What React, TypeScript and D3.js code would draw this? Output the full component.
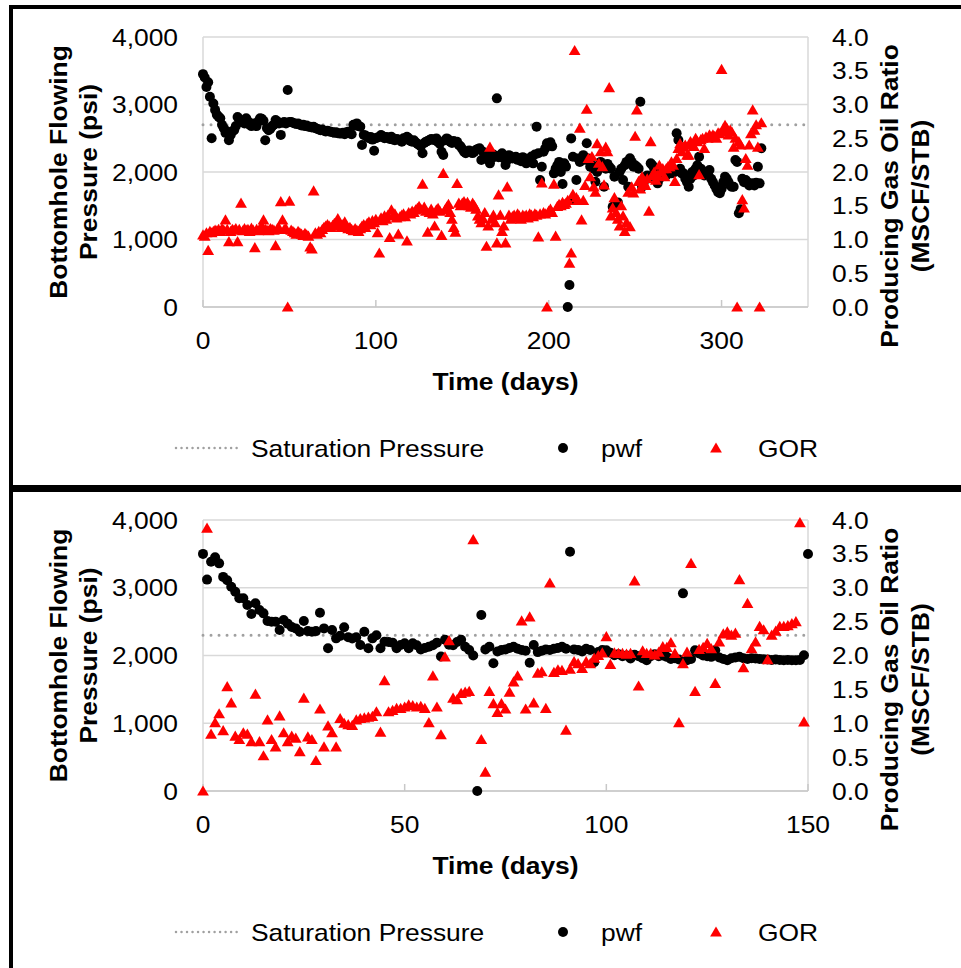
import React from 'react';
import * as d3 from 'd3';

// ---------- data (index = day) ----------
const TOP_TIME_TICKS = [0, 100, 200, 300];
const BOTTOM_TIME_TICKS = [0, 50, 100, 150];
const PRESSURE_TICKS = [0, 1000, 2000, 3000, 4000];
const GOR_TICKS = [0, 0.5, 1, 1.5, 2, 2.5, 3, 3.5, 4];
const TOP_SATURATION = 2700;
const BOTTOM_SATURATION = 2300;
const TOP_X_MAX = 350;
const BOTTOM_X_MAX = 150;
const LEGEND_LABELS = ['Saturation Pressure', 'pwf', 'GOR'];
const X_TITLE = 'Time (days)';
const Y_LEFT_TITLE = ['Bottomhole Flowing', 'Pressure (psi)'];
const Y_RIGHT_TITLE = ['Producing Gas Oil Ratio', '(MSCF/STB)'];

const topPwf: (number | null)[] = [
  3450, 3400, 3260, 3330, 3115, 2500, 3015, 2920, 2850, 2820,
  2795, 2700, 2650, 2580, 2600, 2470, 2550, 2600, 2620, 2680,
  2815, 2780, 2740, 2760, 2720, 2795, 2750, 2700, 2680, 2720,
  2700, 2680, 2750, 2795, 2790, 2760, 2470, 2650, 2620, 2640,
  2680, 2700, 2770, 2750, 2720, 2550, 2730, 2740, 2720, 3215,
  2740, 2740, 2730, 2720, 2710, 2720, 2700, 2690, 2700, 2680,
  2690, 2670, 2672, 2660, 2670, 2650, 2640, 2630, 2620, 2630,
  2610, 2600, 2610, 2600, 2597, 2590, 2580, 2590, 2575, 2570,
  2572, 2580, 2560, 2590, 2597, 2570, 2560, 2700, 2690, 2720,
  2680, 2672, 2400, 2550, 2540, 2523, 2500, 2520, 2480, 2316,
  2500, 2510, 2520, 2548, 2530, 2500, 2520, 2510, 2490, 2523,
  2480, 2470, 2490, 2480, 2473, 2450, 2500, 2480, 2523, 2500,
  2460, 2450, 2470, 2440, 2420, 2400, 2380, 2277, 2430, 2450,
  2460, 2473, 2490, 2480, 2470, 2498, 2440, 2420, 2300, 2252,
  2470, 2498, 2480, 2450, 2430, 2460, 2440, 2449, 2400, 2380,
  2340, 2300, 2277, 2300, 2320, 2290, 2280, 2300, 2330, 2340,
  2351, 2178, 2300, 2280, 2200, 2250, 2128, 2200, 2260, 2230,
  3091, 2220, 2250, 2277, 2200, 2104, 2180, 2250, 2230, 2200,
  2210, 2227, 2180, 2200, 2160, 2220, 2200, 2128, 2180, 2200,
  2230, 2128, 2260, 2672, 2277, 1881, 2079, 2300, 2350, 2425,
  2400, 2440, 2380, 1980, 2050, 2100, 2150, 2000, 1822, 2128,
  2080, 0, 326, 2498, 2227, 1585, 1881, 2200, 2150, 2203,
  2250, 2180, 2425, 2200, 2079, 2100, 2050, 1856, 2000, 2100,
  2150, 2080, 1782, 2050, 2120, 2079, 2050, 1486, 1931, 1500,
  1550, 2000, 2050, 1881, 2100, 2150, 1782, 2203, 2150, 2079,
  2100, 2079, 2050, 3042, 1782, 1850, 1900, 1950, 1920, 2128,
  2100, 2050, 1950, 1832, 1900, 1950, 1980, 2000, 1950, 1980,
  2000, 1980, 2020, 2000, 2573, 2474, 2050, 1980, 1980, 1900,
  1850, 1782, 1900, 2000, 1950, 2050, 2100, 2227, 2050, 1980,
  1950, 2000, 1980, 2030, 1900, 1850, 1800, 1750, 1700, 1684,
  1750, 1850, 1931, 1900, 1850, 1800, 1780, 1782, 2178, 2150,
  1388, 1450, 1900, 1850, 1881, 1850, 1800, 1820, 1832, 1800,
  1840, 2079, 1832, 2351,
];

const topGor: (number | null)[] = [
  1.07, 1.05, 1.10, 0.84, 1.12, 1.10, 1.12, 1.14, 1.13, 1.15,
  1.12, 1.16, 1.14, 1.29, 1.15, 0.97, 1.12, 1.15, 1.14, 1.16,
  0.97, 1.15, 1.54, 1.13, 1.16, 1.14, 1.15, 1.12, 1.17, 1.14,
  0.88, 1.15, 1.13, 1.16, 1.20, 1.29, 1.15, 1.14, 1.13, 1.16,
  1.15, 1.14, 0.91, 1.16, 1.17, 1.56, 1.29, 1.15, 1.16, 0.0,
  1.57, 1.14, 1.12, 1.10, 1.08, 1.12, 1.10, 1.08, 1.06, 1.09,
  1.07, 1.05, 0.89, 0.86, 1.72, 1.10, 1.08, 1.12, 1.10, 1.15,
  1.18, 1.20, 1.22, 1.20, 1.18, 1.21, 1.24, 1.22, 1.31, 1.20,
  1.18, 1.22, 1.26, 1.20, 1.16, 1.18, 1.15, 1.13, 1.16, 1.14,
  1.12, 1.16, 1.20, 1.22, 1.18, 1.24, 1.26, 1.22, 1.28, 1.25,
  1.30, 1.10, 0.80, 1.32, 1.28, 1.35, 1.30, 1.36, 1.03, 1.44,
  1.35, 1.38, 1.32, 1.08, 1.34, 1.36, 1.38, 1.34, 0.98, 1.40,
  1.38, 1.42, 1.40, 1.44, 1.46, 1.49, 1.45, 1.82, 1.48, 1.42,
  1.11, 1.40, 1.45, 1.38, 1.20, 1.44, 1.46, 1.42, 1.06, 1.98,
  1.44, 1.48, 1.52, 1.40, 1.30, 1.18, 1.11, 1.83, 1.54, 1.50,
  1.54, 1.56, 1.52, 1.55, 1.50, 1.48, 1.54, 1.50, 1.45, 1.35,
  1.30, 1.25, 1.31, 1.40, 0.90, 1.20, 2.37, 1.30, 1.36, 1.25,
  0.95, 1.66, 1.36, 1.12, 1.20, 0.95, 1.78, 1.36, 1.30, 1.34,
  1.36, 1.32, 1.38, 1.35, 1.30, 1.36, 1.34, 1.36, 1.32, 1.38,
  1.36, 1.34, 1.38, 1.36, 1.04, 1.38, 1.84, 1.40, 1.38, 0.0,
  1.42, 1.45, 1.40, 1.82, 1.05, 1.49, 1.52, 1.50, 1.55, 1.52,
  1.54, 1.58, 0.65, 0.80, 1.67, 3.80, 1.62, 1.58, 2.65, 1.29,
  1.58, 1.80, 2.93, 2.20, 1.93, 2.23, 1.78, 1.70, 2.42, 2.13,
  2.30, 2.08, 1.81, 2.37, 2.30, 3.25, 1.35, 1.47, 1.62, 1.40,
  1.30, 1.20, 1.50, 1.35, 1.12, 1.25, 1.70, 1.19, 1.78, 1.69,
  2.53, 2.92, 1.86, 1.75, 1.93, 1.85, 1.80, 1.90, 1.42, 2.45,
  1.95, 2.00, 1.88, 1.95, 2.10, 2.00, 2.05, 1.93, 2.05, 2.08,
  2.08, 2.15, 2.10, 1.86, 2.20, 2.35, 2.42, 2.30, 2.37, 2.40,
  2.25, 2.25, 2.45, 2.40, 2.38, 2.50, 2.45, 1.96, 2.48, 2.50,
  2.35, 2.52, 2.50, 2.55, 2.52, 2.55, 2.53, 2.50, 2.58, 2.57,
  3.52, 2.60, 2.69, 2.65, 2.55, 2.62, 2.59, 2.37, 2.50, 0.0,
  2.45, 2.40, 1.59, 1.47, 2.20, 2.10, 2.40, 2.57, 2.92, 2.62,
  2.70, 2.37, 0.0, 2.73,
];

const bottomPwf: (number | null)[] = [
  3500, 3120, 3385, 3450, 3360, 3160, 3110, 3016, 2940, 2844,
  2844, 2745, 2612, 2770, 2671, 2622, 2509, 2500, 2500, 2376,
  2524, 2470, 2420, 2400, 2351, 2509, 2360, 2351, 2360, 2632,
  2400, 2106, 2376, 2253, 2290, 2416, 2270, 2250, 2270, 2155,
  2351, 2106, 2253, 2300, 2106, 2204, 2200, 2190, 2106, 2155,
  2180, 2106, 2180, 2150, 2090, 2110, 2130, 2150, 2190, 1984,
  2233, 2160, 2150, 2200, 2233, 2130, 2080, 2000, 0, 2598,
  2090, 2130, 1885, 2058, 2080, 2090, 2110, 2130, 2100, 2083,
  2070, 1893, 2155, 2050, 2070, 2090, 2080, 2100, 2110, 2130,
  2100, 3532, 2090, 2083, 2060, 2100, 2080, 1900, 2050, 2080,
  2076, 2040, 2004, 2020, 1990, 2000, 1955, 2010, 1990, 1960,
  1930, 1990, 2020, 1990, 2000, 1980, 1950, 1960, 1940, 2917,
  1930, 1950, 2076, 2030, 2000, 1990, 1980, 2076, 1970, 1950,
  1930, 1960, 1970, 1980, 1960, 1950, 1960, 1955, 1950, 1945,
  1940, 1935, 1940, 1935, 1930, 1935, 1930, 1930, 1935, 2004,
  3498,
];

const bottomGor: (number | null)[] = [
  0.0, 3.88, 0.84, 1.01, 1.14, 0.89, 1.54, 1.30, 0.81, 0.76,
  0.86, 0.84, 0.73, 1.43, 0.73, 0.52, 1.05, 0.76, 0.65, 1.11,
  0.86, 0.73, 0.81, 0.78, 0.58, 1.37, 0.80, 0.76, 0.45, 1.21,
  0.65, 0.96, 0.86, 0.65, 1.07, 1.00, 0.98, 0.97, 1.05, 1.07,
  1.08, 1.09, 1.10, 1.17, 0.87, 1.63, 1.17, 1.19, 1.22, 1.22,
  1.24, 1.27, 1.26, 1.24, 1.25, 1.22, 1.01, 1.70, 1.24, 0.83,
  1.98, 2.22, 1.37, 1.35, 1.44, 1.46, 1.47, 3.71, null, 0.76,
  0.28, 1.47, 1.29, 1.16, 1.29, 1.21, 1.46, 1.61, 1.70, 2.51,
  1.21, 2.57, 1.30, 1.74, 1.76, 1.22, 3.07, 1.75, 1.79, 1.78,
  0.90, 1.80, 1.91, 1.88, 1.81, 1.91, 1.88, 1.96, 2.00, 2.04,
  2.28, 1.87, 2.04, 2.03, 2.03, 2.02, 2.03, 3.10, 1.55, 2.07,
  2.03, 2.03, 2.01, 2.05, 2.13, 2.12, 2.19, 2.03, 1.01, 1.88,
  2.05, 3.36, 1.47, 2.09, 2.12, 2.18, 2.10, 1.59, 2.20, 2.32,
  2.35, 2.30, 2.33, 3.12, 1.82, 2.77, 2.10, 2.20, 2.43, 2.38,
  1.94, 2.30, 2.36, 2.43, 2.43, 2.44, 2.47, 2.50, 3.96, 1.02,
];

// ---------- styling ----------
const FONT = "'Liberation Sans', Arial, sans-serif";
const FS = 24;
const SX = 1.1;
const GRID = '#d9d9d9';
const SAT_COLOR = '#a0a0a0';
const PLOT_LEFT = 203;
const PLOT_RIGHT = 808;
const R = 5;
const TRI = 'M0,-5.6L5.9,4.6L-5.9,4.6Z';

function T(props: {
  x: number; y: number; text: string; anchor?: string; bold?: boolean; rotate?: number; size?: number;
}) {
  const { x, y, text, anchor = 'start', bold = false, rotate = 0, size = FS } = props;
  return (
    <text
      transform={`translate(${x},${y}) rotate(${rotate}) scale(${SX},1)`}
      textAnchor={anchor}
      fontFamily={FONT}
      fontSize={size}
      fontWeight={bold ? 'bold' : 'normal'}
      fill="#000"
    >
      {text}
    </text>
  );
}

function Panel(props: {
  plotTop: number; plotBottom: number; xMax: number; xTicks: number[];
  pwf: (number | null)[]; gor: (number | null)[]; sat: number;
}) {
  const { plotTop, plotBottom, xMax, xTicks, pwf, gor, sat } = props;
  const x = d3.scaleLinear().domain([0, xMax]).range([PLOT_LEFT, PLOT_RIGHT]);
  const yP = d3.scaleLinear().domain([0, 4000]).range([plotBottom, plotTop]);
  const yG = d3.scaleLinear().domain([0, 4]).range([plotBottom, plotTop]);
  const fmtP = d3.format(',');
  const fmtG = d3.format('.1f');
  const midY = (plotTop + plotBottom) / 2;
  const midX = (PLOT_LEFT + PLOT_RIGHT) / 2;
  const legendY = plotBottom + 141;
  const satLine = d3.line<number>().x((d) => x(d)).y(() => yP(sat));

  return (
    <g>
      {PRESSURE_TICKS.map((t) => (
        <line key={'g' + t} x1={PLOT_LEFT} x2={PLOT_RIGHT} y1={yP(t)} y2={yP(t)} stroke={GRID} strokeWidth={1.5} />
      ))}
      <line x1={PLOT_LEFT} x2={PLOT_LEFT} y1={plotTop} y2={plotBottom} stroke={GRID} strokeWidth={1.5} />
      <line x1={PLOT_RIGHT} x2={PLOT_RIGHT} y1={plotTop} y2={plotBottom} stroke={GRID} strokeWidth={1.5} />
      <line x1={PLOT_LEFT} x2={PLOT_RIGHT} y1={plotBottom} y2={plotBottom} stroke="#c8c8c8" strokeWidth={1.5} />
      {xTicks.map((t) => (
        <line key={'tk' + t} x1={x(t)} x2={x(t)} y1={plotBottom} y2={plotBottom - 7} stroke="#c8c8c8" strokeWidth={1.5} />
      ))}
      <path d={satLine([0, xMax]) || ''} stroke={SAT_COLOR} strokeWidth={3} strokeDasharray="0.01 8" strokeLinecap="round" fill="none" />
      {pwf.map((v, i) =>
        v === null ? null : <circle key={'p' + i} cx={x(i)} cy={yP(v)} r={R} fill="#000" />
      )}
      {gor.map((v, i) =>
        v === null ? null : <path key={'r' + i} d={TRI} transform={`translate(${x(i)},${yG(v)})`} fill="#ff0000" />
      )}
      {PRESSURE_TICKS.map((t) => (
        <T key={'lt' + t} x={178} y={yP(t) + 8.5} text={fmtP(t)} anchor="end" />
      ))}
      {GOR_TICKS.map((t) => (
        <T key={'rt' + t} x={832} y={yG(t) + 8.5} text={fmtG(t)} />
      ))}
      {xTicks.map((t) => (
        <T key={'xt' + t} x={x(t)} y={plotBottom + 42} text={String(t)} anchor="middle" />
      ))}
      <T x={midX} y={plotBottom + 83} text={X_TITLE} anchor="middle" bold />
      <T x={67} y={midY} text={Y_LEFT_TITLE[0]} anchor="middle" bold rotate={-90} />
      <T x={97} y={midY} text={Y_LEFT_TITLE[1]} anchor="middle" bold rotate={-90} />
      <T x={898} y={midY + 24} text={Y_RIGHT_TITLE[0]} anchor="middle" bold rotate={-90} />
      <T x={929} y={midY + 24} text={Y_RIGHT_TITLE[1]} anchor="middle" bold rotate={-90} />
      <line x1={176} x2={242} y1={legendY} y2={legendY} stroke={SAT_COLOR} strokeWidth={2.5} strokeDasharray="0.01 5.5" strokeLinecap="round" />
      <T x={251} y={legendY + 8.5} text={LEGEND_LABELS[0]} />
      <circle cx={563} cy={legendY} r={R} fill="#000" />
      <T x={601} y={legendY + 8.5} text={LEGEND_LABELS[1]} />
      <path d={TRI} transform={`translate(716,${legendY})`} fill="#ff0000" />
      <T x={758} y={legendY + 8.5} text={LEGEND_LABELS[2]} />
    </g>
  );
}

export default function App() {
  return (
    <svg
      width={961}
      height={968}
      style={{ position: 'absolute', left: 0, top: 0, background: '#fff' }}
    >
      <rect x={0} y={0} width={961} height={968} fill="#fff" />
      <Panel plotTop={37} plotBottom={307} xMax={TOP_X_MAX} xTicks={TOP_TIME_TICKS} pwf={topPwf} gor={topGor} sat={TOP_SATURATION} />
      <Panel plotTop={520} plotBottom={791} xMax={BOTTOM_X_MAX} xTicks={BOTTOM_TIME_TICKS} pwf={bottomPwf} gor={bottomGor} sat={BOTTOM_SATURATION} />
      <line x1={11} x2={970} y1={7} y2={7} stroke="#000" strokeWidth={4} />
      <line x1={11} x2={11} y1={5} y2={970} stroke="#000" strokeWidth={4} />
      <rect x={9} y={485} width={960} height={7} fill="#000" />
    </svg>
  );
}
